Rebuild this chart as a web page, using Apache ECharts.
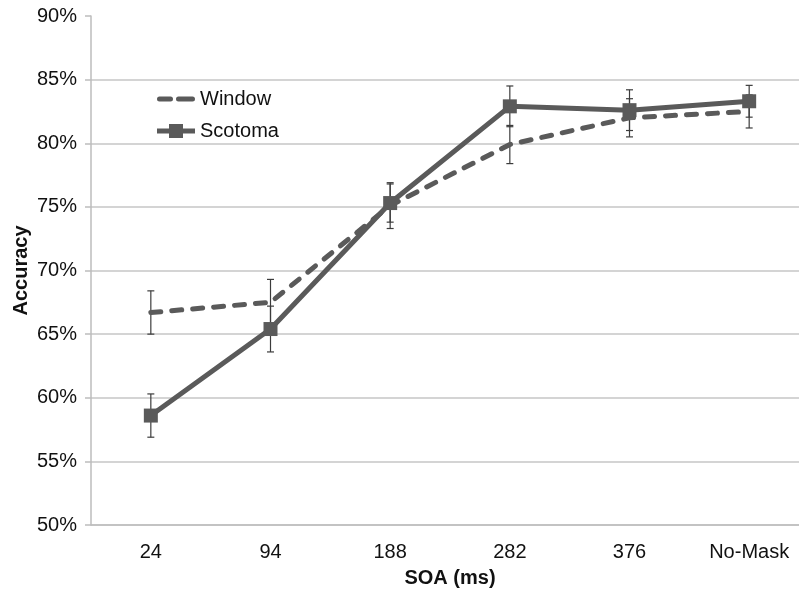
<!DOCTYPE html>
<html>
<head>
<meta charset="utf-8">
<script src="https://cdn.jsdelivr.net/npm/echarts@6/dist/echarts.min.js"></script>
<style>
  html, body { margin: 0; padding: 0; background: #fff; overflow: hidden; }
  /* plot area runs past the right edge of the picture, as in the source figure */
  #chart { width: 809px; height: 592px; }
</style>
</head>
<body>
<div id="chart"></div>
<script>
// SOA conditions
const categories = ['24', '94', '188', '282', '376', 'No-Mask']
// accuracy (%) and error bar half-widths
const windowAcc = [66.7, 67.5, 75.1, 79.9, 82.0, 82.5]
const windowErr = [1.7, 1.8, 1.8, 1.5, 1.5, 1.3]
const scotomaAcc = [58.6, 65.4, 75.3, 82.9, 82.6, 83.3]
const scotomaErr = [1.7, 1.8, 1.5, 1.6, 1.6, 1.25]
const yTicks = { min: 50, max: 90, step: 5 }

const lineColor = '#5a5a5a'
const font = "'Liberation Sans', Arial, sans-serif"

// legend icons (38 x 14 box)
const windowIcon = 'path://M0,0L0.01,0M38,14L37.99,14' +
  'M2.5,4.5H13.5A2.5,2.5,0,0,1,13.5,9.5H2.5A2.5,2.5,0,0,1,2.5,4.5Z' +
  'M21.5,4.5H35.5A2.5,2.5,0,0,1,35.5,9.5H21.5A2.5,2.5,0,0,1,21.5,4.5Z'
const scotomaIcon = 'path://M0,4.5H12V0H26V4.5H38V9.5H26V14H12V9.5H0Z'

// 误差线
const errorBars = (name, means, errs) => ({
  name: name + ' err',
  type: 'custom',
  z: 1,
  silent: true,
  data: means.map((m, i) => [i, m - errs[i], m + errs[i]]),
  renderItem: (params, api) => {
    const lo = api.coord([api.value(0), api.value(1)])
    const hi = api.coord([api.value(0), api.value(2)])
    const cap = 3.5
    const style = { stroke: '#3c3c3c', lineWidth: 1.2 }
    return {
      type: 'group',
      children: [
        { type: 'line', shape: { x1: hi[0], y1: hi[1], x2: lo[0], y2: lo[1] }, style },
        { type: 'line', shape: { x1: hi[0] - cap, y1: hi[1], x2: hi[0] + cap, y2: hi[1] }, style },
        { type: 'line', shape: { x1: lo[0] - cap, y1: lo[1], x2: lo[0] + cap, y2: lo[1] }, style }
      ]
    }
  }
})

const chart = echarts.init(document.getElementById('chart'))
chart.setOption({
  backgroundColor: '#fff',
  animation: false,
  textStyle: { fontFamily: font },
  grid: { left: 91, top: 16, right: 0, bottom: 67, outerBoundsMode: 'none' },
  legend: {
    data: [
      { name: 'Window', icon: windowIcon },
      { name: 'Scotoma', icon: scotomaIcon }
    ],
    orient: 'vertical',
    left: 157,
    top: 89,
    padding: 0,
    itemWidth: 38,
    itemHeight: 14,
    itemGap: 12,
    itemStyle: { color: lineColor, borderWidth: 0 },
    textStyle: { fontSize: 20, color: '#111', fontFamily: font }
  },
  xAxis: {
    type: 'category',
    data: categories,
    boundaryGap: true,
    name: 'SOA (ms)',
    nameLocation: 'middle',
    nameGap: 43,
    nameTextStyle: { fontSize: 20, fontWeight: 'bold', color: '#111', fontFamily: font },
    axisLine: { lineStyle: { color: '#bdbdbd', width: 1.5 } },
    axisTick: { length: 6, lineStyle: { color: '#bdbdbd', width: 1.5 } },
    axisLabel: { fontSize: 20, color: '#111', margin: 17, fontFamily: font }
  },
  yAxis: {
    type: 'value',
    min: yTicks.min,
    max: yTicks.max,
    interval: yTicks.step,
    name: 'Accuracy',
    nameLocation: 'middle',
    nameGap: 60,
    nameMoveOverlap: false,
    nameTextStyle: { fontSize: 20, fontWeight: 'bold', color: '#111', fontFamily: font },
    axisLine: { show: true, lineStyle: { color: '#bdbdbd', width: 1.5 } },
    axisTick: { show: true, length: 6, lineStyle: { color: '#bdbdbd', width: 1.5 } },
    axisLabel: { fontSize: 20, color: '#111', margin: 14, formatter: '{value}%', fontFamily: font },
    splitLine: { showMaxLine: false, lineStyle: { color: '#c6c6c6', width: 1.5 } }
  },
  series: [
    {
      name: 'Window',
      type: 'line',
      z: 3,
      data: windowAcc,
      symbol: 'none',
      color: lineColor,
      lineStyle: { color: lineColor, width: 5, type: [10, 11], cap: 'round' }
    },
    {
      name: 'Scotoma',
      type: 'line',
      z: 4,
      data: scotomaAcc,
      symbol: 'rect',
      symbolSize: 14,
      color: lineColor,
      itemStyle: { color: lineColor },
      lineStyle: { color: lineColor, width: 5 }
    },
    errorBars('Window', windowAcc, windowErr),
    errorBars('Scotoma', scotomaAcc, scotomaErr)
  ]
})
</script>
</body>
</html>
